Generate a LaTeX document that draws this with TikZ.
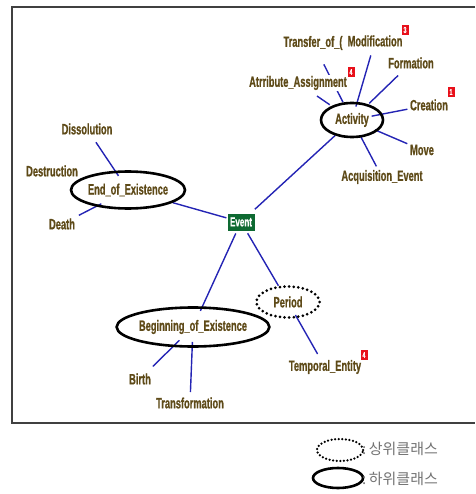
\documentclass[tikz,border=0pt]{standalone}
\usepackage{fontspec}
\setmainfont{Liberation Sans}[FakeStretch=0.62,BoldFeatures={FakeBold=0.8}]
\newfontfamily\korfont{Noto Sans CJK KR}
\usetikzlibrary{shapes.geometric,backgrounds}
\definecolor{termbrown}{HTML}{5E4A18}
\definecolor{spokeblue}{HTML}{2424B4}
\definecolor{eventgreen}{HTML}{0E6A32}
\definecolor{badgered}{HTML}{E8101A}
\begin{document}
\begin{tikzpicture}[x=1pt,y=-1pt,
  term/.style={text=termbrown,font=\fontsize{15}{15}\selectfont\bfseries,inner sep=1pt,fill=white},
  hub/.style={shape=ellipse,draw,line width=2.6pt,inner sep=0pt,text=termbrown,
    font=\fontsize{15}{15}\selectfont\bfseries},
  dothub/.style={hub,line width=3pt,line cap=round,dash pattern=on 0pt off 4.6pt},
  badge/.style={fill=badgered,text=white,font=\fontsize{8.5}{8.5}\selectfont\bfseries,
    inner sep=0pt,minimum width=7pt,minimum height=10pt},
  spoke/.style={draw=spokeblue,line width=1.4pt},
  legtext/.style={text=black!55,font=\korfont\fontsize{15}{15}\selectfont,anchor=west,inner sep=0pt}]
\useasboundingbox (0,0) rectangle (475,494);
% frame
\draw[line width=1.3pt,black!75] (475,7) -- (12,7) -- (12,423) -- (475,423);
% centre
\node(event) at (241,222)[fill=eventgreen,text=white,inner sep=0pt,minimum width=27pt,minimum height=17pt,
  font=\fontsize{13}{13}\selectfont\bfseries] {Event};
% hubs
\node(activity) at (352,120)[hub,minimum width=62pt,minimum height=34pt]   {Activity};
\node(endex) at (128,190)[hub,minimum width=114pt,minimum height=37pt]     {End\_of\_Existence};
\node(beginex) at (193,327)[hub,minimum width=140pt,minimum height=39pt]   {Beginning\_of\_Existence};
\node(period) at (288,302)[dothub,minimum width=63pt,minimum height=31pt]  {Period};
% terms
\node(transfer) at (313,43)[term]        {Transfer\_of\_(};
\node(modification) at (375,41)[term]    {Modification};
\node(formation) at (411,63)[term]       {Formation};
\node(creation) at (429,105)[term]       {Creation};
\node(move) at (422,150)[term]           {Move};
\node(acquisition) at (382,177)[term]    {Acquisition\_Event};
\node(attribute) at (298,83)[term]       {Atrribute\_Assignment};
\node(dissolution) at (87,129)[term]     {Dissolution};
\node(destruction) at (52,171)[term]     {Destruction};
\node(death) at (62,224)[term]           {Death};
\node(birth) at (140,379)[term]          {Birth};
\node(transformation) at (190,403)[term] {Transformation};
\node(temporal) at (325,367)[term]       {Temporal\_Entity};
% badges
\node(badgemod) at (405,30)[badge]  {3};
\node(badgecre) at (451,92)[badge]  {1};
\node(badgeatt) at (351,72)[badge]  {4};
\node(badgetem) at (364,355)[badge] {4};
% legend
\node(legsup) at (340,450)[dothub,line width=2.5pt,dash pattern=on 0pt off 3.6pt,minimum width=46pt,minimum height=22pt] {};
\node(legsub) at (338,478)[hub,minimum width=50pt,minimum height=20pt] {};
\node(legsuptext) at (362,449)[legtext] {:\,상위클래스};
\node(legsubtext) at (362,479)[legtext] {:\,하위클래스};
\begin{scope}[on background layer]
\path [spoke]
  (event)   edge [shorten <=6pt]  (activity)
  (event)   edge [shorten <=1pt]  (endex)
  (event)   edge [shorten <=3pt,shorten >=-5pt]  (beginex)
  (event)   edge [shorten <=3pt]  (period)
  (transfer.center)     edge [shorten <=24pt,shorten >=20pt]  (activity.center)
  (modification.center) edge [shorten <=15pt,shorten >=14pt]  (activity.center)
  (formation.center)    edge [shorten <=18pt,shorten >=24pt]  (activity.center)
  (creation.center)     edge [shorten <=22pt,shorten >=20pt]  (activity.center)
  (move.center)         edge [shorten <=16pt,shorten >=25pt]  (activity.center)
  (acquisition.center)  edge [shorten <=12pt,shorten >=19pt]  (activity.center)
  (attribute.center)    edge [shorten <=23pt,shorten >=27pt]  (activity.center)
  (dissolution.center)  edge [shorten <=16pt,shorten >=17pt]  (endex.center)
  (death.center)        edge [shorten <=19pt,shorten >=30pt]  (endex.center)
  (birth.center)        edge [shorten <=18pt,shorten >=19pt]  (beginex.center)
  (transformation.center) edge [shorten <=11pt,shorten >=15pt] (beginex.center)
  (temporal.center)     edge [shorten <=15pt,shorten >=15pt]  (period.center);
\end{scope}
\end{tikzpicture}
\end{document}
